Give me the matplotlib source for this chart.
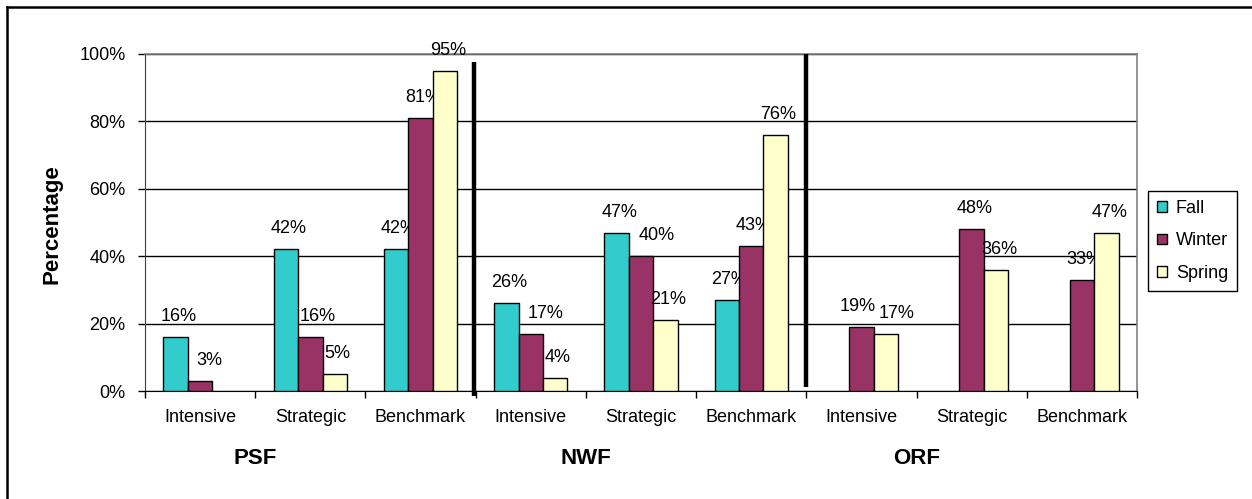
import numpy as np
import matplotlib
matplotlib.use('Agg')
import matplotlib.pyplot as plt
from matplotlib.lines import Line2D
from matplotlib.ticker import FixedLocator, PercentFormatter

plt.rcParams['font.family'] = ['Liberation Sans', 'DejaVu Sans']

categories = ['Intensive', 'Strategic', 'Benchmark'] * 3
groups = ['PSF', 'NWF', 'ORF']
series = ['Fall', 'Winter', 'Spring']
fall = [16, 42, 42, 26, 47, 27, 0, 0, 0]
winter = [3, 16, 81, 17, 40, 43, 19, 48, 33]
spring = [0, 5, 95, 4, 21, 76, 17, 36, 47]
colors = ['#33CCCC', '#993366', '#FFFFCC']

# sideways nudges (points) for labels that would crowd each other
nudge = {('Winter', 0): 7, ('Winter', 1): 5, ('Winter', 3): 11, ('Winter', 4): 11,
         ('Spring', 6): 8, ('Winter', 6): -3}

fig = plt.figure(figsize=(12.52, 4.99), dpi=100)
ax = fig.add_axes([145 / 1252, 1 - 391 / 499, 992 / 1252, 337 / 499])

x = np.arange(len(categories))
width = 0.222
handles = []
for k, (name, vals, col) in enumerate(zip(series, [fall, winter, spring], colors)):
    pos = x + (k - 1) * width
    vals = np.array(vals, dtype=float)
    heights = np.where(vals > 0, vals, np.nan)  # no bar at all for empty values
    bars = ax.bar(pos, heights, width, color=col, edgecolor='black', linewidth=1.0,
                  label=name, zorder=3)
    handles.append(bars)
    for i, (xi, v) in enumerate(zip(pos, vals)):
        if v > 0:
            dx = nudge.get((name, i), 2)
            ax.annotate(f"{v:.0f}%", (xi, v), textcoords="offset points", xytext=(dx, 11.5),
                        ha='center', va='baseline', fontsize=13)

ax.set_xlim(-0.5, len(categories) - 0.5)
ax.set_ylim(0, 100)
ax.yaxis.set_major_locator(FixedLocator([0, 20, 40, 60, 80, 100]))
ax.yaxis.set_major_formatter(PercentFormatter(decimals=0))
ax.grid(axis='y', color='black', linewidth=1.0, zorder=0)
ax.set_axisbelow(True)

# category labels on minor ticks, tick marks on the boundaries
ax.set_xticks(np.arange(len(categories) + 1) - 0.5)
ax.set_xticklabels([])
ax.set_xticks(x, minor=True)
ax.set_xticklabels(categories, minor=True, fontsize=13)
ax.tick_params(axis='x', which='major', direction='out', length=5, width=1)
ax.tick_params(axis='x', which='minor', length=0, pad=13)
ax.tick_params(axis='y', direction='out', length=5, width=1, pad=9, labelsize=13)

for side in ['top', 'right']:
    ax.spines[side].set_color('#808080')
    ax.spines[side].set_linewidth(1.2)
ax.spines['left'].set_color('#404040')
ax.spines['bottom'].set_color('black')

# group labels
for gi, g in enumerate(groups):
    ax.text(gi * 3 + 0.5, -0.2, g, transform=ax.get_xaxis_transform(),
            ha='center', va='center', fontsize=16, fontweight='bold')

# thick separators between groups
ax.plot([2.485, 2.485], [-1.5, 97.6], color='black', lw=3.2, clip_on=False, zorder=4,
        solid_capstyle='butt')
ax.plot([5.5, 5.5], [1.2, 100], color='black', lw=3.2, clip_on=False, zorder=4,
        solid_capstyle='butt')

fig.text(52 / 1252, 1 - 224 / 499, 'Percentage', rotation=90, ha='center', va='center',
         fontsize=16, fontweight='bold')

leg = fig.legend(handles=handles, labels=series, loc='upper left',
                 bbox_to_anchor=(1148 / 1252, 1 - 191 / 499), fontsize=13,
                 frameon=True, fancybox=False, edgecolor='black', framealpha=1,
                 handlelength=0.55, handleheight=0.55, handletextpad=0.5,
                 borderpad=0.5, labelspacing=0.85, borderaxespad=0)
leg.get_frame().set_linewidth(1.0)

# outer frame of the chart (only top and left edge are visible)
fig.add_artist(Line2D([7 / 1252, 7 / 1252], [0, 1 - 7 / 499], color='black', lw=1.8,
                      transform=fig.transFigure))
fig.add_artist(Line2D([7 / 1252, 1], [1 - 7 / 499, 1 - 7 / 499], color='black', lw=1.8,
                      transform=fig.transFigure))

fig.savefig('out.png', dpi=100)
